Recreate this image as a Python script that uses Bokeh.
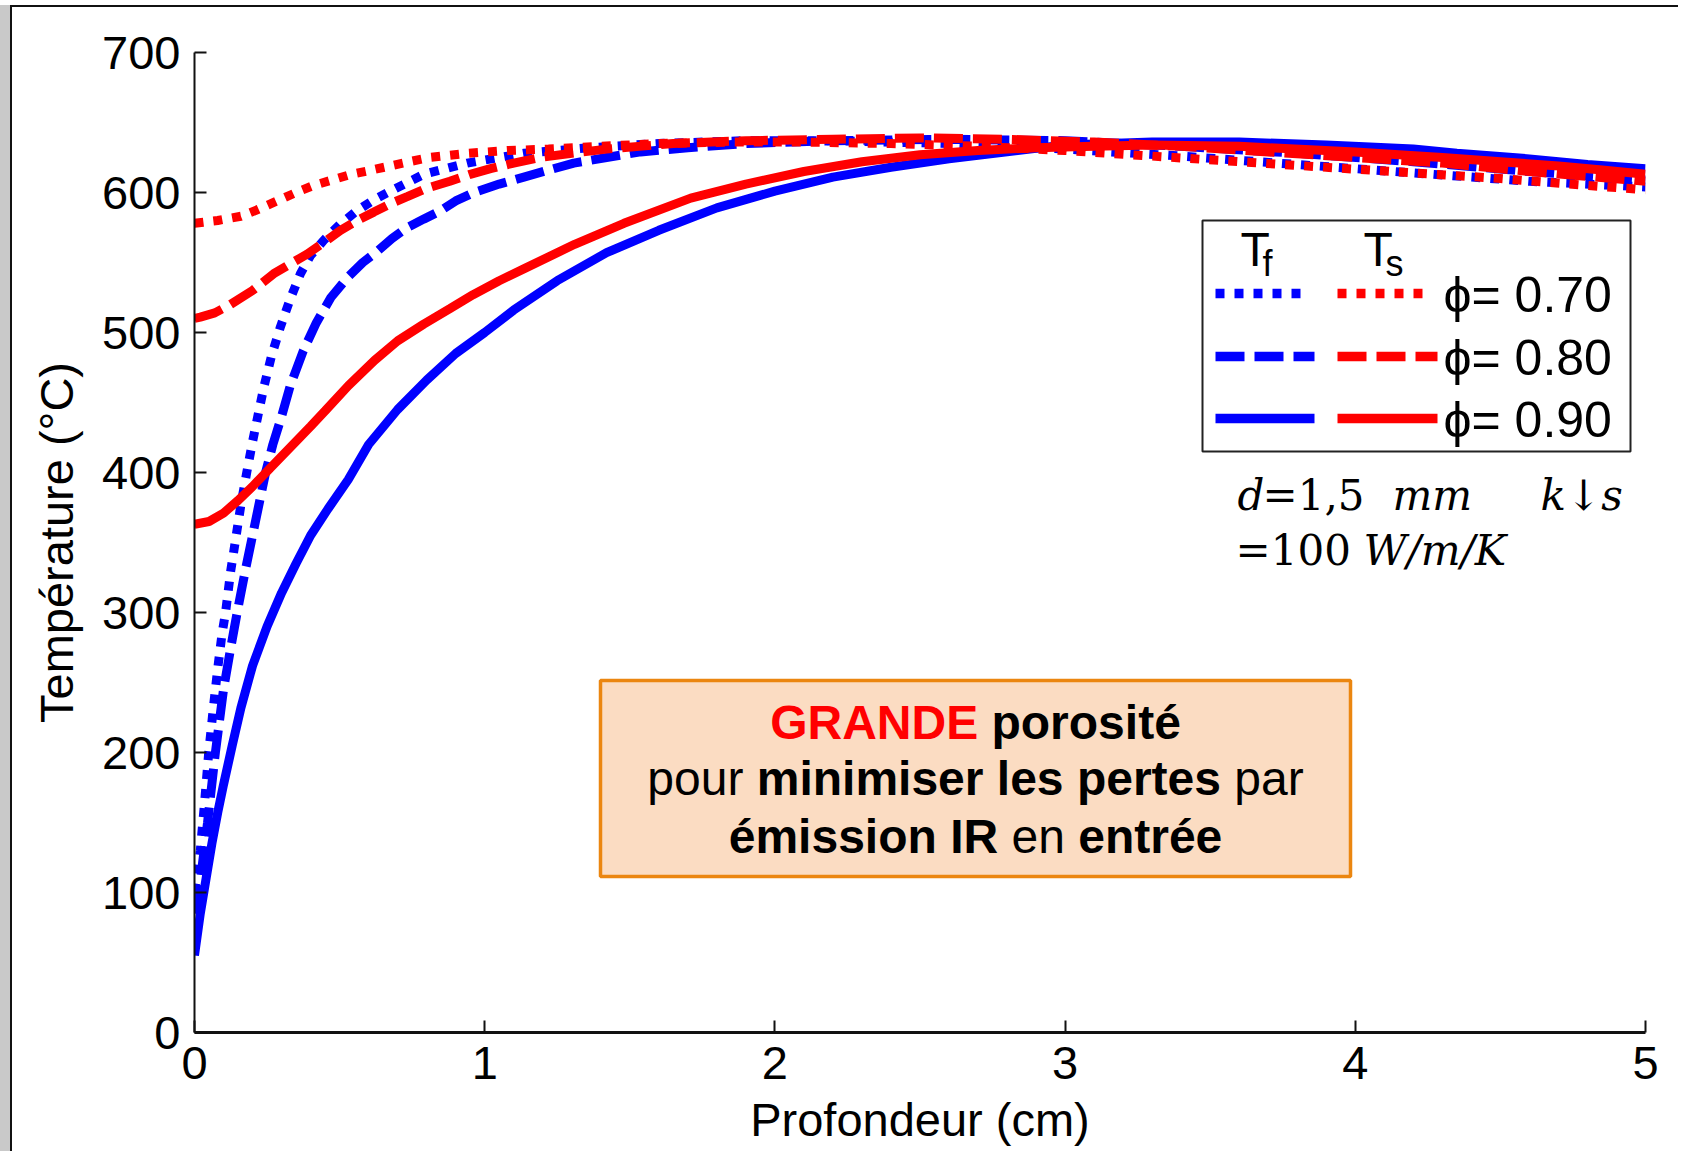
from bokeh.plotting import figure
from bokeh.models import Range1d, FixedTicker, BoxAnnotation, Label
from bokeh.embed import file_html
from bokeh.resources import INLINE

# ---- temperature profiles (depth in cm, temperature in degC) ----
# fluid temperature Tf
depth_tf70 = [0.00, 0.02, 0.035, 0.049, 0.065, 0.08, 0.095, 0.107, 0.125, 0.14, 0.16, 0.18,
              0.20, 0.22, 0.239, 0.265, 0.296, 0.33, 0.365, 0.40, 0.446, 0.50, 0.56, 0.62,
              0.675, 0.79, 0.94, 1.135, 1.365, 1.6, 1.9, 2.2, 2.6, 3.0, 3.4, 3.8, 4.2, 4.6, 5.0]
temp_tf70 = [100, 130, 165, 200, 232, 260, 285, 300, 330, 350, 377, 400,
             422, 442, 461, 483, 504, 524, 542, 555, 566, 577, 587, 595,
             601, 613, 621, 628, 632, 635, 637, 637, 635, 631, 626, 620, 614, 608, 604]

depth_tf80 = [0.00, 0.02, 0.045, 0.072, 0.10, 0.125, 0.147, 0.175, 0.20, 0.225, 0.245, 0.27,
              0.30, 0.33, 0.375, 0.42, 0.47, 0.526, 0.58, 0.63, 0.68, 0.733, 0.79, 0.848,
              0.90, 0.963, 1.05, 1.135, 1.22, 1.307, 1.42, 1.537, 1.70, 1.90, 2.20, 2.60,
              3.00, 3.40, 3.80, 4.20, 4.60, 5.00]
temp_tf80 = [85, 108, 150, 200, 245, 275, 300, 330, 355, 380, 400, 420,
             440, 462, 487, 507, 525, 539, 550, 558, 567, 575, 581, 587,
             594, 600, 606, 611, 616, 621, 625, 629, 632, 635, 637, 638,
             637, 633, 628, 622, 615, 609]

depth_tf90 = [0.00, 0.02, 0.04, 0.06, 0.08, 0.10, 0.13, 0.16, 0.20, 0.25, 0.30, 0.35,
              0.40, 0.46, 0.53, 0.60, 0.70, 0.80, 0.90, 1.00, 1.10, 1.25, 1.42, 1.60,
              1.80, 2.00, 2.20, 2.40, 2.60, 2.80, 3.00, 3.30, 3.60, 3.90, 4.20, 4.35,
              4.60, 4.80, 5.00]
temp_tf90 = [55, 85, 110, 135, 157, 177, 205, 232, 262, 290, 314, 335,
             355, 374, 395, 420, 445, 466, 485, 500, 516, 537, 557, 573,
             589, 601, 611, 618, 624, 629, 634, 636, 636, 634, 631, 628,
             624, 620, 617]

# solid temperature Ts
depth_ts70 = [0.00, 0.08, 0.16, 0.22, 0.285, 0.35, 0.41, 0.475, 0.54, 0.61, 0.675, 0.74,
              0.81, 0.94, 1.08, 1.22, 1.40, 1.60, 1.85, 2.10, 2.40, 2.70, 3.00, 3.30,
              3.60, 3.90, 4.20, 4.50, 4.80, 5.00]
temp_ts70 = [578, 580, 583, 588, 594, 600, 605, 609, 613, 616, 619, 622,
             625, 628, 630, 631, 633, 635, 636, 636, 635, 633, 630, 626,
             622, 618, 614, 610, 605, 602]

depth_ts80 = [0.00, 0.02, 0.07, 0.124, 0.20, 0.273, 0.33, 0.388, 0.45, 0.503, 0.56, 0.618,
              0.675, 0.733, 0.80, 0.88, 0.95, 1.02, 1.10, 1.19, 1.30, 1.42, 1.65, 1.90,
              2.20, 2.50, 2.80, 3.10, 3.40, 3.70, 4.00, 4.30, 4.60, 5.00]
temp_ts80 = [510, 511, 514, 520, 530, 542, 549, 556, 565, 573, 580, 586,
             592, 597, 603, 608, 613, 617, 621, 625, 628, 631, 635, 637,
             638, 639, 638, 636, 633, 629, 625, 621, 615, 608]

depth_ts90 = [0.00, 0.05, 0.10, 0.15, 0.20, 0.26, 0.33, 0.40, 0.45, 0.53, 0.62, 0.70,
              0.79, 0.88, 0.96, 1.05, 1.14, 1.31, 1.48, 1.71, 1.90, 2.10, 2.30, 2.50,
              2.70, 2.90, 3.10, 3.30, 3.60, 4.00, 4.30, 4.50, 4.70, 4.85, 5.00]
temp_ts90 = [363, 365, 371, 380, 390, 403, 418, 433, 444, 462, 480, 494,
             506, 517, 527, 537, 546, 563, 578, 596, 606, 615, 622, 627,
             630, 632, 633, 634, 633, 629, 625, 622, 619, 616, 613]

porosities = [0.70, 0.80, 0.90]
x_ticks = [0, 1, 2, 3, 4, 5]
y_ticks = [0, 100, 200, 300, 400, 500, 600, 700]

BLUE = "#0000FF"
RED = "#FF0000"
DASHES = ["9 10", "29 10", "solid"]

# ---- page geometry (pixels) ----
PAGE_W, PAGE_H = 1684, 1157
OFF_X, OFF_Y = 10, 5          # outer margin before the page frame
BORDER = 2                    # page frame line
CX, CY = OFF_X + BORDER, OFF_Y + BORDER   # canvas origin on the page
W, H = PAGE_W - CX - 4, PAGE_H - CY - 4
FL, FR, FT, FB = 194, 1645, 52, 1032      # plot frame edges on the page
X0, X1, Y0, Y1 = 0, 5, 0, 700


def dx(px):
    return X0 + (px - FL) / (FR - FL) * (X1 - X0)


def dy(py):
    return Y0 + (FB - py) / (FB - FT) * (Y1 - Y0)


p = figure(width=W, height=H, output_backend="svg", toolbar_location=None,
           x_range=Range1d(X0, X1), y_range=Range1d(Y0, Y1),
           min_border_left=FL - CX, min_border_right=CX + W - FR,
           min_border_top=FT - CY, min_border_bottom=CY + H - FB)
p.styles = {
    "margin-left": f"{OFF_X}px",
    "margin-top": f"{OFF_Y}px",
    "border-left": f"{BORDER}px solid #111111",
    "border-top": f"{BORDER}px solid #111111",
    "box-shadow": f"-{OFF_X + BORDER}px 0 0 0 #c9c9c9",
}
p.outline_line_color = None
p.xgrid.grid_line_color = None
p.ygrid.grid_line_color = None
p.background_fill_color = "white"
p.border_fill_color = "white"

FONT = "Liberation Sans"
for ax in (p.xaxis, p.yaxis):
    ax.axis_line_color = "#111111"
    ax.axis_line_width = 2
    ax.major_tick_line_color = "#111111"
    ax.major_tick_line_width = 2
    ax.major_tick_in = 12
    ax.major_tick_out = 0
    ax.minor_tick_line_color = None
    ax.major_label_text_font = FONT
    ax.major_label_text_font_size = "47px"
    ax.major_label_text_color = "black"
    ax.axis_label_text_font = FONT
    ax.axis_label_text_font_size = "47px"
    ax.axis_label_text_font_style = "normal"
    ax.axis_label_text_color = "black"
p.xaxis.axis_line_width = 3

p.xaxis.ticker = FixedTicker(ticks=x_ticks)
p.yaxis.ticker = FixedTicker(ticks=y_ticks)
p.xaxis.axis_label = "Profondeur (cm)"
p.yaxis.axis_label = "Température (°C)"
p.xaxis.major_label_standoff = 14
p.xaxis.axis_label_standoff = 11
p.yaxis.major_label_standoff = 14
p.yaxis.axis_label_standoff = 16

# ---- curves: fluid (blue) first, solid (red) on top ----
fluid = [(depth_tf70, temp_tf70), (depth_tf80, temp_tf80), (depth_tf90, temp_tf90)]
solid = [(depth_ts70, temp_ts70), (depth_ts80, temp_ts80), (depth_ts90, temp_ts90)]
for (xs, ys), dash in zip(fluid, DASHES):
    p.line(xs, ys, line_color=BLUE, line_width=9, line_dash=dash)
for (xs, ys), dash in zip(solid, DASHES):
    p.line(xs, ys, line_color=RED, line_width=9, line_dash=dash)


def label(text, px, base, size, font=FONT, style="normal", color="black", align="left"):
    # base is the wanted baseline on the page; shift for how labels sit on it
    py = base - 0.36 * size
    p.add_layout(Label(x=dx(px), y=dy(py), text=text, text_font=font,
                       text_font_size=f"{size}px", text_font_style=style,
                       text_color=color, text_align=align, text_baseline="alphabetic"))


# ---- legend ----
p.add_layout(BoxAnnotation(left=dx(1202), right=dx(1630), top=dy(220), bottom=dy(451),
                           fill_color="white", fill_alpha=1, line_color="#222222",
                           line_alpha=1, line_width=2, level="underlay"))
label("T", 1240, 266, 48)
label("f", 1262, 276, 36)
label("T", 1363, 266, 48)
label("s", 1385, 276, 36)
row_y = [293, 356, 418]
blue_end = [1305, 1314, 1314]
red_end = [1427, 1437, 1437]
for phi, yy, dash, be, re_ in zip(porosities, row_y, DASHES, blue_end, red_end):
    p.line([dx(1215), dx(be)], [dy(yy), dy(yy)], line_color=BLUE, line_width=9.5, line_dash=dash)
    p.line([dx(1337), dx(re_)], [dy(yy), dy(yy)], line_color=RED, line_width=9.5, line_dash=dash)
    label(f"\u03d5= {phi:.2f}", 1443, yy + 19, 50)

# ---- parameters below the legend ----
SERIF = "DejaVu Serif"
label("d", 1237, 510, 42, SERIF, "italic")
label("=1,5", 1262, 510, 42, SERIF)
label("mm", 1392, 510, 42, SERIF, "italic")
label("k\u2193s", 1540, 510, 42, SERIF, "italic")
label("=100", 1235, 565, 42, SERIF)
label("W/m/K", 1363, 565, 42, SERIF, "italic")

# ---- message box ----
p.add_layout(BoxAnnotation(left=dx(600), right=dx(1350), top=dy(680), bottom=dy(876),
                           fill_color="#FBDCC2", fill_alpha=1, line_color="#EB8610",
                           line_alpha=1, line_width=3.5, level="underlay"))

REG = {" ": 278, "p": 556, "o": 556, "u": 556, "r": 333, "a": 556, "e": 556, "n": 556}
BOLD = {" ": 278, "G": 778, "R": 722, "A": 722, "N": 722, "D": 722, "E": 667, "I": 278,
        "p": 611, "o": 611, "r": 389, "s": 556, "i": 278, "t": 333, "\u00e9": 556,
        "e": 556, "m": 889, "n": 611, "l": 278}
MSG_SIZE = 48
message = [
    (739, [("GRANDE", True, "#FF0000"), (" porosité", True, "black")]),
    (795, [("pour ", False, "black"), ("minimiser les pertes", True, "black"), (" par", False, "black")]),
    (853, [("émission IR", True, "black"), (" en ", False, "black"), ("entrée", True, "black")]),
]
CENTER = 975
for base, parts in message:
    widths = [sum((BOLD if b else REG)[c] for c in t) / 1000 * MSG_SIZE for t, b, _ in parts]
    xpos = CENTER - sum(widths) / 2
    for (t, b, col), w in zip(parts, widths):
        lead = len(t) - len(t.lstrip(" "))
        off = lead * (BOLD if b else REG)[" "] / 1000 * MSG_SIZE
        label(t.strip(" "), xpos + off, base, MSG_SIZE, style="bold" if b else "normal", color=col)
        xpos += w

open("out.html", "w").write(file_html(p, INLINE))
